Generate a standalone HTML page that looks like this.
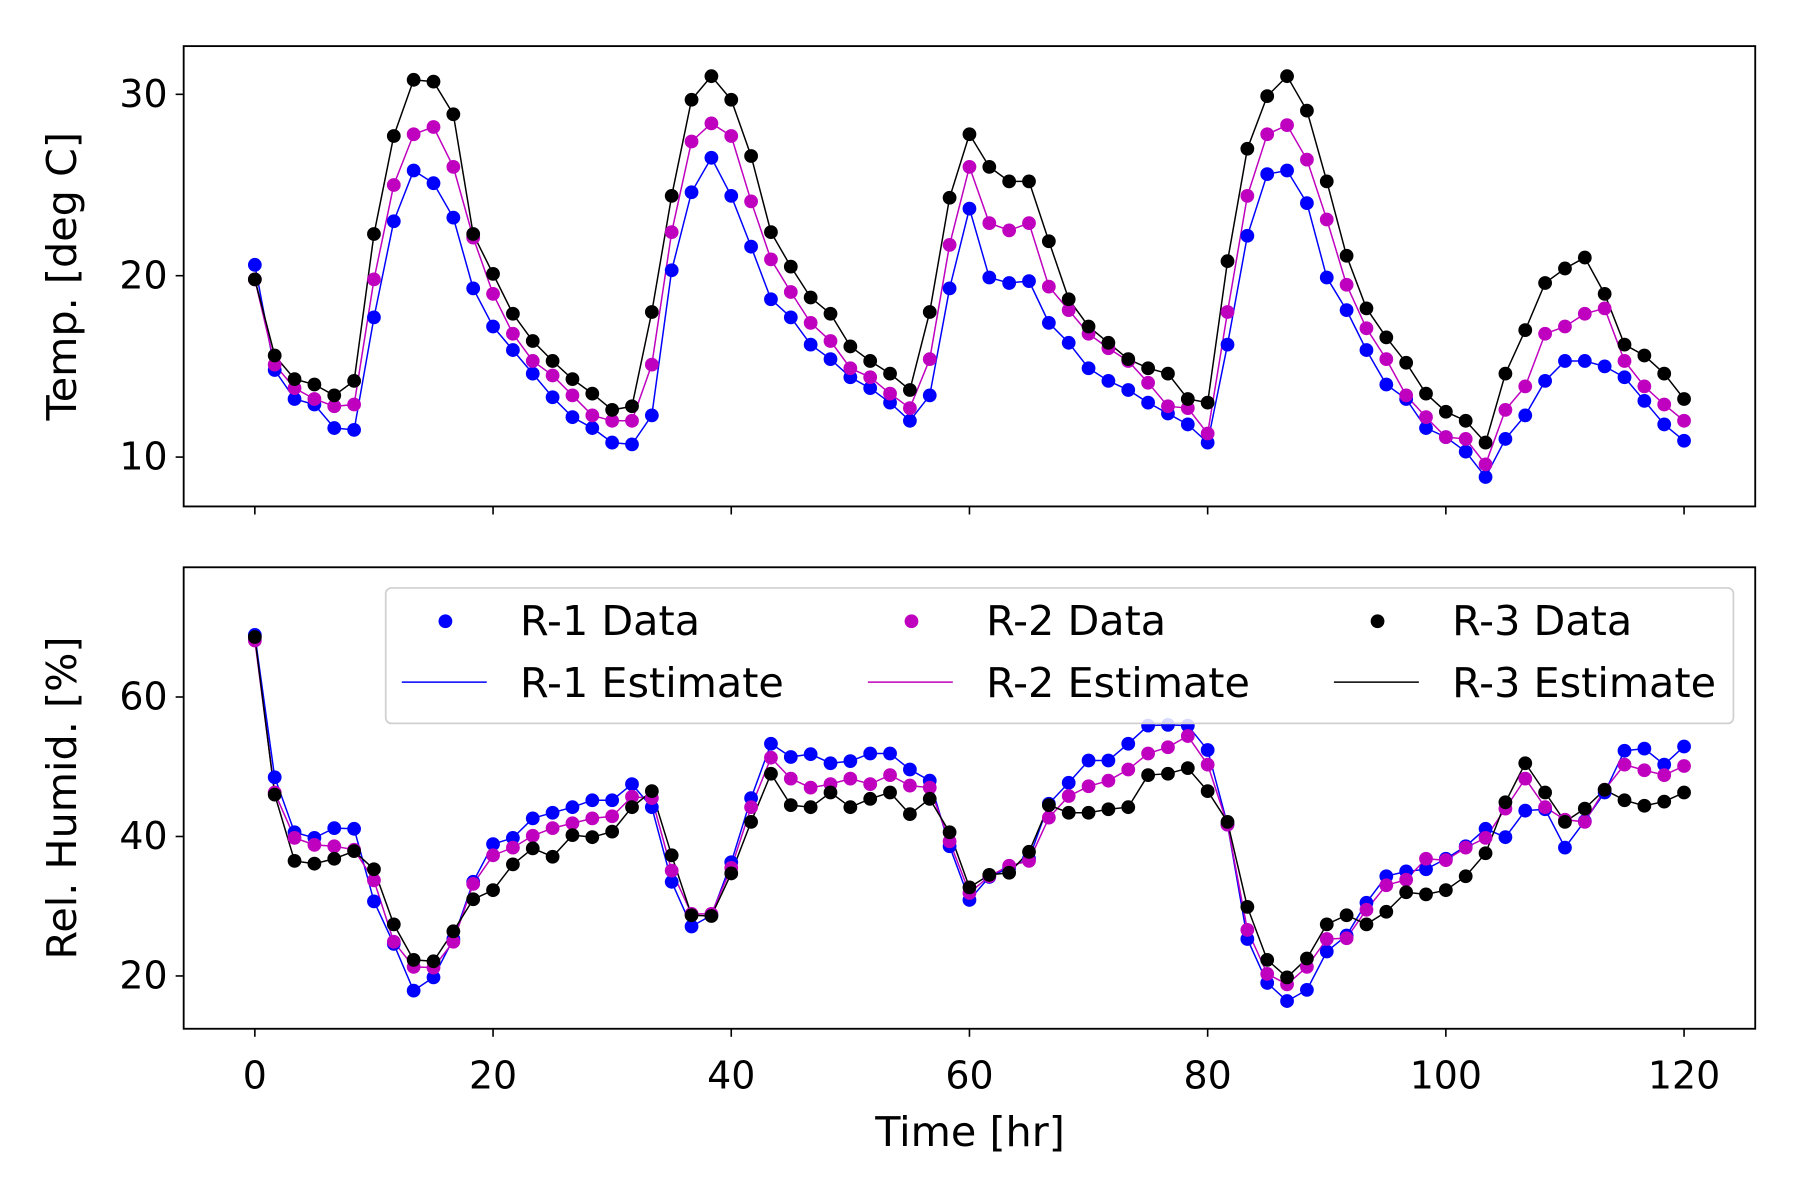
<!DOCTYPE html>
<html><head><meta charset="utf-8"><style>html,body{margin:0;padding:0;background:#fff;}svg{display:block;font-family:"DejaVu Sans","Liberation Sans",sans-serif;}</style></head>
<body>
<svg id="chart" width="1800" height="1200" viewBox="0 0 1568 1045" xmlns="http://www.w3.org/2000/svg">
<rect width="1568" height="1045" fill="#fff"/>
<g id="top"></g>
<g id="bot"></g>
<g id="legend"></g>
</svg>
<script>
const hours = Array.from({length:73},(_,i)=>i*5/3);
const tempR1 = [20.6,14.8,13.2,12.9,11.6,11.5,17.7,23.0,25.8,25.1,23.2,19.3,17.2,15.9,14.6,13.3,12.2,11.6,10.8,10.7,12.3,20.3,24.6,26.5,24.4,21.6,18.7,17.7,16.2,15.4,14.4,13.8,13.0,12.0,13.4,19.3,23.7,19.9,19.6,19.7,17.4,16.3,14.9,14.2,13.7,13.0,12.4,11.8,10.8,16.2,22.2,25.6,25.8,24.0,19.9,18.1,15.9,14.0,13.2,11.6,11.1,10.3,8.9,11.0,12.3,14.2,15.3,15.3,15.0,14.4,13.1,11.8,10.9];
const tempR2 = [19.8,15.1,13.8,13.2,12.8,12.9,19.8,25.0,27.8,28.2,26.0,22.1,19.0,16.8,15.3,14.5,13.4,12.3,12.0,12.0,15.1,22.4,27.4,28.4,27.7,24.1,20.9,19.1,17.4,16.4,14.9,14.4,13.5,12.7,15.4,21.7,26.0,22.9,22.5,22.9,19.4,18.1,16.8,16.0,15.3,14.1,12.8,12.7,11.3,18.0,24.4,27.8,28.3,26.4,23.1,19.5,17.1,15.4,13.4,12.2,11.1,11.0,9.6,12.6,13.9,16.8,17.2,17.9,18.2,15.3,13.9,12.9,12.0];
const tempR3 = [19.8,15.6,14.3,14.0,13.4,14.2,22.3,27.7,30.8,30.7,28.9,22.3,20.1,17.9,16.4,15.3,14.3,13.5,12.6,12.8,18.0,24.4,29.7,31.0,29.7,26.6,22.4,20.5,18.8,17.9,16.1,15.3,14.6,13.7,18.0,24.3,27.8,26.0,25.2,25.2,21.9,18.7,17.2,16.3,15.4,14.9,14.6,13.2,13.0,20.8,27.0,29.9,31.0,29.1,25.2,21.1,18.2,16.6,15.2,13.5,12.5,12.0,10.8,14.6,17.0,19.6,20.4,21.0,19.0,16.2,15.6,14.6,13.2];
const humR1 = [68.9,48.5,40.6,39.8,41.2,41.1,30.7,24.6,17.9,19.8,25.3,33.5,38.9,39.8,42.6,43.4,44.2,45.2,45.2,47.5,44.2,33.5,27.1,28.7,36.3,45.5,53.3,51.4,51.8,50.5,50.8,51.9,51.9,49.6,48.0,38.6,30.9,34.2,35.5,36.8,44.7,47.7,50.9,50.9,53.3,55.9,56.0,55.9,52.4,41.7,25.3,19.0,16.4,18.0,23.5,25.8,30.5,34.3,35.0,35.3,36.8,38.6,41.1,39.9,43.7,43.9,38.4,42.2,46.3,52.3,52.6,50.3,52.9];
const humR2 = [68.1,46.3,39.8,38.8,38.6,38.1,33.7,24.9,21.3,21.2,24.9,33.2,37.3,38.4,40.1,41.2,41.9,42.6,42.9,45.7,45.5,35.1,28.9,28.9,35.5,44.2,51.3,48.3,47.0,47.5,48.3,47.5,48.8,47.3,47.0,39.3,31.9,34.3,35.8,36.5,42.7,45.8,47.2,48.0,49.6,51.9,52.8,54.4,50.3,41.7,26.6,20.3,18.8,21.3,25.3,25.4,29.5,33.0,33.8,36.8,36.6,38.4,39.8,44.0,48.3,44.2,42.4,42.1,46.7,50.3,49.5,48.8,50.1];
const humR3 = [68.6,46.0,36.5,36.1,36.8,37.9,35.3,27.4,22.3,22.1,26.4,31.0,32.3,36.0,38.3,37.1,40.2,39.9,40.7,44.2,46.5,37.3,28.7,28.6,34.7,42.1,49.0,44.5,44.2,46.3,44.2,45.4,46.3,43.2,45.4,40.6,32.7,34.5,34.8,37.8,44.5,43.4,43.4,43.9,44.2,48.8,49.0,49.8,46.5,42.1,29.9,22.3,19.8,22.5,27.4,28.7,27.4,29.2,32.0,31.7,32.3,34.3,37.6,44.9,50.5,46.3,42.1,44.0,46.7,45.2,44.4,45.0,46.3];
const xTicks = [0,20,40,60,80,100,120];
const tempTicks = [10,20,30];
const humTicks = [20,40,60];
const seriesNames = ["R-1","R-2","R-3"];
const colors = ["#0000ff","#bf00bf","#000000"];

const NS="http://www.w3.org/2000/svg";
function mk(tag,attrs,parent){const e=document.createElementNS(NS,tag);for(const k in attrs)e.setAttribute(k,attrs[k]);parent.appendChild(e);return e;}
const X0=160,X1=1529;
const xs = t => 222 + (t)*(1467-222)/120;

function panel(g,top,bot,yv0,yp0,yv1,yp1,ticks,label,data,name,showX){
  const ys = v => yp0 + (v-yv0)*(yp1-yp0)/(yv1-yv0);
  data.forEach((arr,si)=>{
    const d = arr.map((v,i)=>(i?'L':'M')+xs(hours[i]).toFixed(1)+','+ys(v).toFixed(1)).join('');
    const p = mk('path',{d:d,fill:'none',stroke:colors[si],'stroke-width':1.3},g);
    
    
  });
  data.forEach((arr,si)=>{
    arr.forEach((v,i)=>{
      const c = mk('circle',{cx:xs(hours[i]),cy:ys(v),r:6,fill:colors[si]},g);
      
      
    });
  });
  const fr = mk('rect',{x:X0,y:top,width:X1-X0,height:bot-top,fill:'none',stroke:'#000','stroke-width':1.6},g);
  
  
  ticks.forEach(t=>{
    const y=ys(t);
    mk('line',{x1:X0-7,x2:X0,y1:y,y2:y,stroke:'#000','stroke-width':1.4},g);
    const tx = mk('text',{x:X0-14,y:y+11,'text-anchor':'end','font-size':33},g);
    tx.textContent=t;
    
    
  });
  xTicks.forEach(t=>{
    const x=xs(t);
    mk('line',{x1:x,x2:x,y1:bot,y2:bot+7,stroke:'#000','stroke-width':1.4},g);
    if(showX){
      const tx = mk('text',{x:x,y:bot+52,'text-anchor':'middle','font-size':33},g);
      tx.textContent=t;
      
      
    }
  });
  const cy=(top+bot)/2;
  const yl = mk('text',{x:0,y:0,'text-anchor':'middle','font-size':36,transform:`translate(66,${cy}) rotate(-90)`},g);
  yl.textContent=label;
  
  
}
panel(document.getElementById('top'),40,441,30,82,10,398,tempTicks,'Temp. [deg C]',[tempR1,tempR2,tempR3],'temp',false);
panel(document.getElementById('bot'),494,896,60,607,20,850,humTicks,'Rel. Humid. [%]',[humR1,humR2,humR3],'humid',true);
const svg=document.getElementById('chart');
const xl = mk('text',{x:845,y:998,'text-anchor':'middle','font-size':36},svg);
xl.textContent='Time [hr]';



const lg=document.getElementById('legend');
const lb = mk('rect',{x:336,y:512,width:1174,height:118,rx:5,fill:'#fff','fill-opacity':0.85,stroke:'#d0d0d0','stroke-width':1.5},lg);


const lx=[388,794,1200];
seriesNames.forEach((n,i)=>{
  const c = mk('circle',{cx:lx[i],cy:541,r:6,fill:colors[i]},lg);
  
  
  const t1 = mk('text',{x:lx[i]+65,y:553,'font-size':36},lg);
  t1.textContent=n+' Data';
  
  
  const l = mk('line',{x1:lx[i]-38,x2:lx[i]+36,y1:594,y2:594,stroke:colors[i],'stroke-width':1.3},lg);
  
  
  const t2 = mk('text',{x:lx[i]+65,y:607,'font-size':36},lg);
  t2.textContent=n+' Estimate';
  
  
});
</script>
</body></html>
